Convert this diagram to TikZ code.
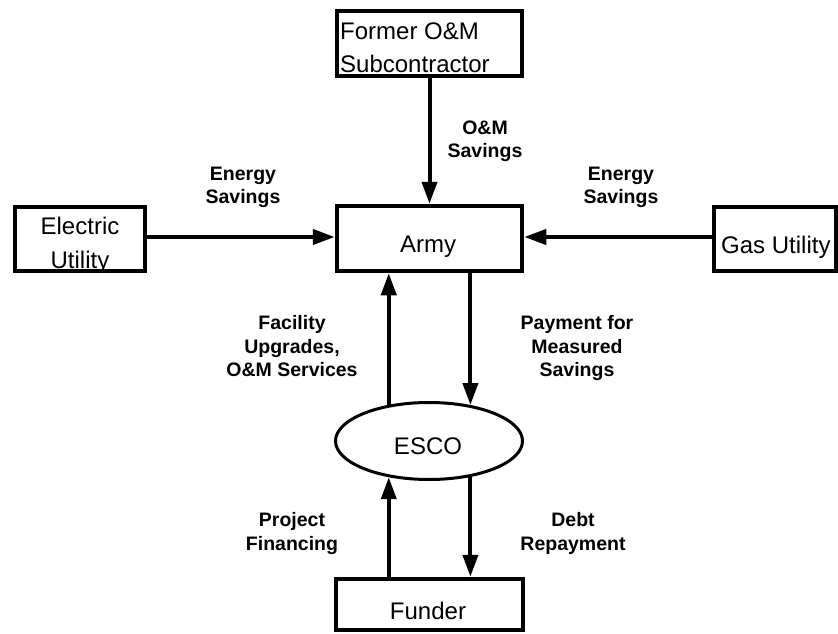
\documentclass[tikz,border=0pt]{standalone}
\usepackage{fontspec}
\setmainfont{Liberation Sans}
\usetikzlibrary{arrows.meta,shapes.geometric}
\begin{document}
\begin{tikzpicture}[x=1pt,y=-1pt,
  boxnode/.style={draw,line width=4.5pt,inner sep=0pt,rectangle},
  ellnode/.style={draw,line width=3pt,inner sep=0pt,ellipse},
  lbl/.style={font=\fontsize{19.5}{23.5}\selectfont\bfseries,align=center,inner sep=0pt},
  txt/.style={font=\fontsize{24}{33}\selectfont,inner sep=0pt},
  arr/.style={line width=4pt,-{Triangle[length=22pt,width=15pt]}}]
\useasboundingbox (0,0) rectangle (838,634);
% texts
\node[txt,align=left,anchor=west] (tformer) at (340,47.7) {Former O\&M\\Subcontractor};
\node[txt,align=center,font=\fontsize{24}{34}\selectfont] (telec) at (80,245.5) {Electric\\Utility};
\node[txt,anchor=base] (tarmy) at (428,252) {Army};
\node[txt,anchor=base west] (tgas) at (721,253) {Gas Utility};
\node[txt,anchor=base] (tesco) at (428,454) {ESCO};
\node[txt,anchor=base] (tfund) at (428,619) {Funder};
% boxes
\node[boxnode,minimum width=185pt,minimum height=65pt] (former) at (429.5,43.5) {};
\node[boxnode,minimum width=185pt,minimum height=65pt] (army) at (429.5,238.5) {};
\node[boxnode,minimum width=130pt,minimum height=64pt] (elec) at (80,239) {};
\node[boxnode,minimum width=122pt,minimum height=64pt] (gas) at (775,239) {};
\node[boxnode,minimum width=187pt,minimum height=51pt] (funder) at (429.5,604.5) {};
\node[ellnode,minimum width=187pt,minimum height=77pt] (esco) at (429,441) {};
% connectors
\draw[arr] (former.south) -- (army.north);
\draw[arr] ([yshift=2pt]elec.east) -- ([yshift=2pt]elec.east -| army.west);
\draw[arr] ([yshift=2pt]gas.west) -- ([yshift=2pt]gas.west -| army.east);
\draw[arr] (esco.138.1) -- (esco.138.1 |- army.south);
\draw[arr] (esco.41.9 |- army.south) -- (esco.41.9);
\draw[arr] (esco.222.8 |- funder.north) -- (esco.222.8);
\draw[arr] (esco.319.8) -- (esco.319.8 |- funder.north);
% labels
\node[lbl] (lom) at (485,141.4) {O\&M\\Savings};
\node[lbl] (lel) at (243,187.4) {Energy\\Savings};
\node[lbl] (lgas) at (621,187.4) {Energy\\Savings};
\node[lbl] (lfac) at (292,346.4) {Facility\\Upgrades,\\O\&M Services};
\node[lbl] (lpay) at (577,348.4) {Payment for\\Measured\\Savings};
\node[lbl] (lproj) at (292,533.4) {Project\\Financing};
\node[lbl] (ldebt) at (573,533.4) {Debt\\Repayment};
\end{tikzpicture}
\end{document}
